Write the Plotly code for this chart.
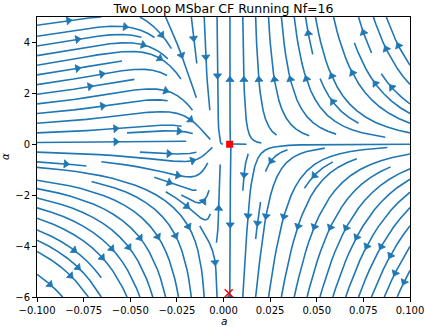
import numpy as np
import plotly.graph_objects as go

# window of the plot
A_RANGE = [-0.1, 0.1]
ALPHA_RANGE = [-6.0, 5.0]

# running coefficients for Nf = 16 (a = g^2 / 16 pi^2), flow drawn towards the IR
BETA_A = [1.0 / 3.0, -302.0 / 3.0]      # beta0, beta1
GAMMA_A1 = [25.0 / 6.0, 0.82]            # a term of the gauge parameter running:  c0 + c1*alpha
GAMMA_A2 = [185.0]                       # a^2 term
GAMMA_A3 = [817.0]                       # a^3 term

# fixed points marked on the plot
FIXED_A = [0.0033]
FIXED_ALPHA = [0.0]
CROSS_A = [0.0028]
CROSS_ALPHA = [-5.85]

X_TICKS = [-0.1, -0.075, -0.05, -0.025, 0.0, 0.025, 0.05, 0.075, 0.1]
X_TICK_TEXT = ["−0.100", "−0.075", "−0.050", "−0.025", "0.000", "0.025", "0.050", "0.075", "0.100"]
Y_TICKS = [-6, -4, -2, 0, 2, 4]
Y_TICK_TEXT = ["−6", "−4", "−2", "0", "2", "4"]

N_GRID = 100
LINE_COLOR = "#1f77b4"

# plot area in pixels (used to orient arrow heads)
W, H = 425, 327
ML, MR, MT, MB = 37, 15, 17, 30
PW, PH = W - ML - MR, H - MT - MB


class _Stop(Exception):
    pass


class _OutOfBounds(Exception):
    pass


class _Terminate(Exception):
    pass


def stream_trajectories(xs, ys, U, V, density=1.0, minlength=0.1, maxlength=4.0):
    """Same seeding / masking scheme as matplotlib's streamplot."""
    ny, nx = U.shape
    ug = U / (xs[1] - xs[0])
    vg = V / (ys[1] - ys[0])
    speed = np.sqrt((ug / (nx - 1)) ** 2 + (vg / (ny - 1)) ** 2)
    ug, vg, speed = ug.tolist(), vg.tolist(), speed.tolist()

    mnx = mny = int(30 * density)
    mask = [[0] * mnx for _ in range(mny)]
    gx2m = (mnx - 1) / (nx - 1)
    gy2m = (mny - 1) / (ny - 1)
    st = {"cur": None, "traj": []}

    def within(xi, yi):
        return 0 <= xi <= nx - 1 and 0 <= yi <= ny - 1

    def interp(arr, xi, yi):
        x, y = int(xi), int(yi)
        xn = x if x == nx - 1 else x + 1
        yn = y if y == ny - 1 else y + 1
        xt, yt = xi - x, yi - y
        a0 = arr[y][x] * (1 - xt) + arr[y][xn] * xt
        a1 = arr[yn][x] * (1 - xt) + arr[yn][xn] * xt
        return a0 * (1 - yt) + a1 * yt

    def update(xi, yi):
        if not within(xi, yi):
            raise _Stop
        xm, ym = round(xi * gx2m), round(yi * gy2m)
        if st["cur"] != (xm, ym):
            if mask[ym][xm] == 0:
                st["traj"].append((ym, xm))
                mask[ym][xm] = 1
                st["cur"] = (xm, ym)
            else:
                raise _Stop

    def forward(xi, yi):
        if not within(xi, yi):
            raise _OutOfBounds
        s = interp(speed, xi, yi)
        if s == 0:
            raise _Terminate
        return interp(ug, xi, yi) / s, interp(vg, xi, yi) / s

    def backward(xi, yi):
        dx, dy = forward(xi, yi)
        return -dx, -dy

    def euler(traj, f):
        xi, yi = traj[-1]
        cx, cy = f(xi, yi)
        dsx = np.inf if cx == 0 else (xi / -cx if cx < 0 else (nx - 1 - xi) / cx)
        dsy = np.inf if cy == 0 else (yi / -cy if cy < 0 else (ny - 1 - yi) / cy)
        ds = min(dsx, dsy)
        traj.append((xi + cx * ds, yi + cy * ds))
        return ds

    def rk12(x0, y0, f):
        maxerror = 0.003
        maxds = min(1.0 / mnx, 1.0 / mny, 0.1)
        ds, stotal = maxds, 0.0
        xi, yi = x0, y0
        traj = []
        while True:
            try:
                if within(xi, yi):
                    traj.append((xi, yi))
                else:
                    raise _OutOfBounds
                k1x, k1y = f(xi, yi)
                k2x, k2y = f(xi + ds * k1x, yi + ds * k1y)
            except _OutOfBounds:
                if traj:
                    try:
                        stotal += euler(traj, f)
                    except (_OutOfBounds, _Terminate):
                        pass
                break
            except _Terminate:
                break
            dx1, dy1 = ds * k1x, ds * k1y
            dx2, dy2 = ds * 0.5 * (k1x + k2x), ds * 0.5 * (k1y + k2y)
            err = np.hypot((dx2 - dx1) / (nx - 1), (dy2 - dy1) / (ny - 1))
            if err < maxerror:
                xi += dx2
                yi += dy2
                try:
                    update(xi, yi)
                except _Stop:
                    break
                if stotal + ds > maxlength:
                    break
                stotal += ds
            ds = maxds if err == 0 else min(maxds, 0.85 * ds * (maxerror / err) ** 0.5)
        return stotal, traj

    def integrate(x0, y0):
        st["traj"] = []
        xm, ym = round(x0 * gx2m), round(y0 * gy2m)
        if st["cur"] != (xm, ym):
            if mask[ym][xm] != 0:
                return None
            st["traj"].append((ym, xm))
            mask[ym][xm] = 1
            st["cur"] = (xm, ym)
        s1, t1 = rk12(x0, y0, backward)
        st["cur"] = (xm, ym)
        s2, t2 = rk12(x0, y0, forward)
        if s1 + s2 > minlength:
            return t1[::-1] + t2[1:]
        for (r, c) in st["traj"]:
            mask[r][c] = 0
        return None

    def spiral(nrow, ncol):
        xfirst, yfirst, xlast, ylast = 0, 1, ncol - 1, nrow - 1
        x, y, direction = 0, 0, "right"
        for _ in range(ncol * nrow):
            yield x, y
            if direction == "right":
                x += 1
                if x >= xlast:
                    xlast -= 1
                    direction = "up"
            elif direction == "up":
                y += 1
                if y >= ylast:
                    ylast -= 1
                    direction = "left"
            elif direction == "left":
                x -= 1
                if x <= xfirst:
                    xfirst += 1
                    direction = "down"
            else:
                y -= 1
                if y <= yfirst:
                    yfirst += 1
                    direction = "right"

    out = []
    for xm, ym in spiral(mny, mnx):
        if mask[ym][xm] == 0:
            t = integrate(xm / gx2m, ym / gy2m)
            if t is not None and len(t) > 1:
                g = np.array(t)
                out.append((xs[0] + g[:, 0] * (xs[1] - xs[0]), ys[0] + g[:, 1] * (ys[1] - ys[0])))
    return out


a = np.linspace(A_RANGE[0], A_RANGE[1], N_GRID)
al = np.linspace(ALPHA_RANGE[0], ALPHA_RANGE[1], N_GRID)
A, AL = np.meshgrid(a, al)
U = 2 * A ** 2 * (BETA_A[0] + BETA_A[1] * A)
V = 2 * AL * (A * (GAMMA_A1[0] + GAMMA_A1[1] * AL) + A ** 2 * GAMMA_A2[0] + A ** 3 * GAMMA_A3[0])

trajs = stream_trajectories(a, al, U, V)

sx = PW / (A_RANGE[1] - A_RANGE[0])
sy = PH / (ALPHA_RANGE[1] - ALPHA_RANGE[0])

line_x, line_y = [], []
arr_x, arr_y, arr_ang = [], [], []
for tx, ty in trajs:
    line_x += list(tx) + [None]
    line_y += list(ty) + [None]
    s = np.cumsum(np.hypot(np.diff(tx), np.diff(ty)))
    n = int(np.searchsorted(s, s[-1] / 2.0))
    n = min(n, len(tx) - 2)
    dxp = (tx[n + 1] - tx[n]) * sx
    dyp = (ty[n + 1] - ty[n]) * sy
    L = np.hypot(dxp, dyp)
    if L == 0:
        continue
    hx = 0.5 * (tx[n] + tx[n + 1])
    hy = 0.5 * (ty[n] + ty[n + 1])
    # shift back so the tip sits at the head point
    arr_x.append(hx - 2.0 * dxp / L / sx)
    arr_y.append(hy - 2.0 * dyp / L / sy)
    arr_ang.append(np.degrees(np.arctan2(dxp, dyp)))

fig = go.Figure()
fig.add_trace(go.Scatter(x=line_x, y=line_y, mode="lines",
                         line=dict(color=LINE_COLOR, width=1.6), hoverinfo="skip"))
fig.add_trace(go.Scatter(x=arr_x, y=arr_y, mode="markers",
                         marker=dict(symbol="triangle-up", size=7, angle=arr_ang, color=LINE_COLOR,
                                     line=dict(width=0.8, color=LINE_COLOR)), hoverinfo="skip"))
fig.add_trace(go.Scatter(x=FIXED_A, y=FIXED_ALPHA, mode="markers",
                         marker=dict(symbol="square", size=7, color="#ff0000")))
fig.add_trace(go.Scatter(x=CROSS_A, y=CROSS_ALPHA, mode="markers", cliponaxis=False,
                         marker=dict(symbol="x-thin", size=8, line=dict(width=1.5, color="#ff0000"))))

axis_common = dict(showline=True, mirror=True, linecolor="black", linewidth=1, ticks="outside",
                   ticklen=4, tickwidth=1, tickcolor="black", showgrid=False, zeroline=False,
                   automargin=False,
                   tickfont=dict(family="DejaVu Sans", size=10, color="black"))
fig.update_xaxes(range=A_RANGE, tickvals=X_TICKS, ticktext=X_TICK_TEXT, **axis_common)
fig.update_yaxes(range=ALPHA_RANGE, tickvals=Y_TICKS, ticktext=Y_TICK_TEXT, **axis_common)

fig.update_layout(
    width=W, height=H, margin=dict(l=ML, r=MR, t=MT, b=MB, autoexpand=False), autosize=False,
    plot_bgcolor="white", paper_bgcolor="white", showlegend=False,
    title=dict(text="Two Loop MSbar CF Running Nf=16", xref="paper", x=0.5, xanchor="center",
               yref="container", y=1 - 8.5 / H, yanchor="middle",
               font=dict(family="DejaVu Sans", size=12.5, color="black")),
    annotations=[
        dict(text="<i>a</i>", xref="paper", yref="paper", x=0.5, y=-24.0 / PH,
             showarrow=False, font=dict(family="DejaVu Sans", size=10.5, color="black"),
             xanchor="center", yanchor="middle"),
        dict(text="<i>α</i>", xref="paper", yref="paper", x=-32.0 / PW, y=0.5, textangle=-90,
             showarrow=False, font=dict(family="DejaVu Sans", size=10.5, color="black"),
             xanchor="center", yanchor="middle"),
    ],
)

# the page's default body margin would push the figure off by 8 px
fig.write_html("out.html", config={"displayModeBar": False, "responsive": False},
               post_script="document.body.style.margin='0px';document.body.style.overflow='hidden';")
